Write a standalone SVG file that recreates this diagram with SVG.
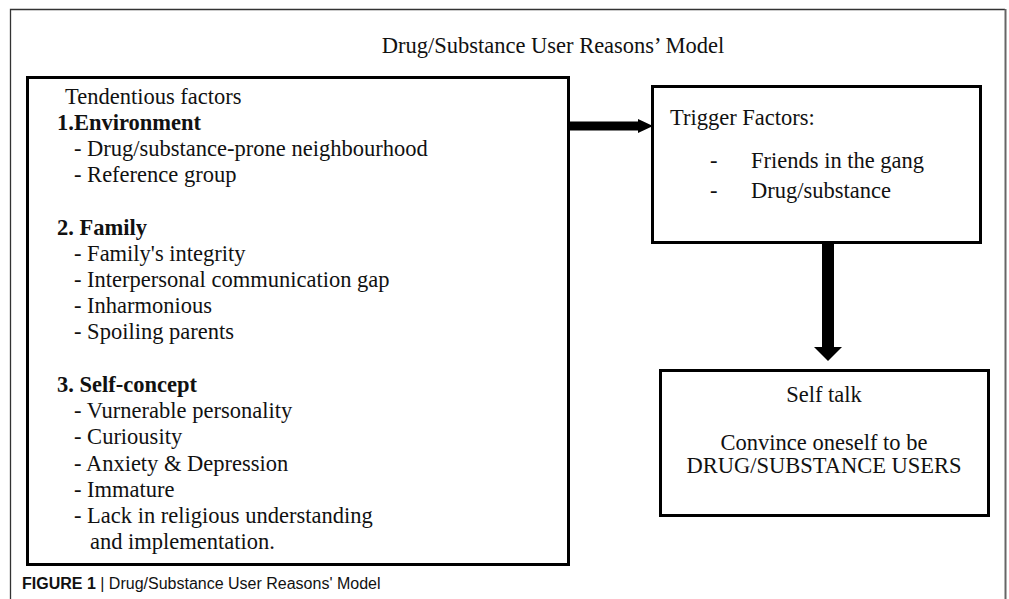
<svg xmlns="http://www.w3.org/2000/svg" width="1009" height="599" viewBox="0 0 1009 599">
<style>
.t{font-family:'Liberation Serif',Tinos,'Times New Roman','DejaVu Serif','Noto Serif',serif;font-size:22.5px;fill:#111}
.b{font-weight:bold}
.box{fill:#fff;stroke:#000;stroke-width:3}
.cap{font-family:'Liberation Sans',Arial,sans-serif;font-size:16px;fill:#111}
</style>
<rect width="1009" height="599" fill="#fff"/>
<g id="frame" fill="none">
<path d="M10.5 599 V9.5 H1005" stroke="#333" stroke-width="1.3"/>
<path d="M1005.5 9 V599" stroke="#666" stroke-width="2"/>
</g>
<text id="title" class="t" x="553" y="53" text-anchor="middle" font-size="23.5">Drug/Substance User Reasons’ Model</text>
<g id="tendentious">
<rect class="box" x="27.5" y="77.5" width="541" height="487"/>
<text class="t" x="65" y="104">Tendentious factors</text>
<text class="t b" x="57" y="130">1.Environment</text>
<text class="t" x="74" y="156">- Drug/substance-prone neighbourhood</text>
<text class="t" x="74" y="182">- Reference group</text>
<text class="t b" x="57" y="235">2. Family</text>
<text class="t" x="74" y="261">- Family's integrity</text>
<text class="t" x="74" y="287">- Interpersonal communication gap</text>
<text class="t" x="74" y="313">- Inharmonious</text>
<text class="t" x="74" y="339">- Spoiling parents</text>
<text class="t b" x="57" y="392">3. Self-concept</text>
<text class="t" x="74" y="418">- Vurnerable personality</text>
<text class="t" x="74" y="444">- Curiousity</text>
<text class="t" x="74" y="471">- Anxiety &amp; Depression</text>
<text class="t" x="74" y="497">- Immature</text>
<text class="t" x="74" y="523">- Lack in religious understanding</text>
<text class="t" x="90" y="549">and implementation.</text>
</g>
<g id="trigger">
<rect class="box" x="652.5" y="86.5" width="328" height="156"/>
<text class="t" x="670" y="125">Trigger Factors:</text>
<text class="t" x="710" y="168">-</text>
<text class="t" x="751" y="168">Friends in the gang</text>
<text class="t" x="710" y="198">-</text>
<text class="t" x="751" y="198">Drug/substance</text>
</g>
<g id="selftalk">
<rect class="box" x="660.5" y="370.5" width="328" height="145"/>
<text class="t" x="824" y="402" text-anchor="middle">Self talk</text>
<text class="t" x="824" y="450" text-anchor="middle">Convince oneself to be</text>
<text class="t" x="824" y="473" text-anchor="middle">DRUG/SUBSTANCE USERS</text>
</g>
<g id="connectors" fill="#000">
<rect x="569" y="121.5" width="70" height="9"/>
<polygon points="638,119 653,126 638,133"/>
<rect x="822" y="243" width="12" height="105"/>
<polygon points="814,347 842,347 828,361"/>
</g>
<text id="caption" class="cap" x="22" y="589"><tspan font-weight="bold">FIGURE 1</tspan> | Drug/Substance User Reasons' Model</text>
</svg>
